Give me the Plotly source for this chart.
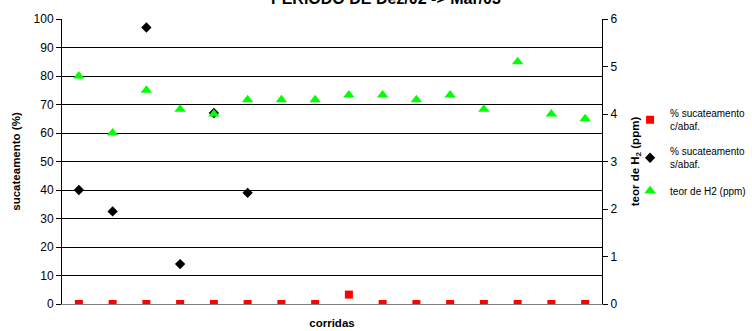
import plotly.graph_objects as go

# Runs (corridas) 1..16
corridas = list(range(1, 17))

# % sucateamento with baffle (c/abaf.)
suc_com_abaf = [0, 0, 0, 0, 0, 0, 0, 0, 3.3, 0, 0, 0, 0, 0, 0, 0]

# % sucateamento without baffle (s/abaf.) - only the first six runs
suc_sem_abaf = [40, 32.5, 97, 14, 67, 39, None, None, None, None, None, None, None, None, None, None]

# Hydrogen content (ppm), right axis
teor_h2 = [4.8, 3.6, 4.5, 4.1, 4.0, 4.3, 4.3, 4.3, 4.4, 4.4, 4.3, 4.4, 4.1, 5.1, 4.0, 3.9]

FONT = "Liberation Sans, Arial, sans-serif"

fig = go.Figure()

fig.add_trace(go.Scatter(
    x=corridas, y=suc_com_abaf, mode="markers",
    name="% sucateamento<br>c/abaf.",
    marker=dict(symbol="square", size=8, color="#FF0000"),
    yaxis="y", legendgroup="a",
))
fig.add_trace(go.Scatter(
    x=corridas, y=suc_sem_abaf, mode="markers",
    name="% sucateamento<br>s/abaf.",
    marker=dict(symbol="diamond", size=8, color="#000000"),
    yaxis="y", legendgroup="b",
))
fig.add_trace(go.Scatter(
    x=corridas, y=teor_h2, mode="markers",
    name="teor de H2 (ppm)",
    marker=dict(symbol="triangle-up", size=10, color="#00FF00"),
    yaxis="y2", legendgroup="c",
))

fig.update_layout(
    width=752, height=331,
    margin=dict(l=62, r=150, t=19, b=27, autoexpand=False),
    paper_bgcolor="white", plot_bgcolor="white",
    font=dict(family=FONT, size=11, color="black"),
    showlegend=True,
    legend=dict(
        x=1.052, y=0.715, xanchor="left", yanchor="top",
        font=dict(family=FONT, size=10, color="black"),
        itemwidth=30, tracegroupgap=9,
        bgcolor="rgba(0,0,0,0)",
    ),
    xaxis=dict(
        range=[0.5, 16.5], showgrid=False, zeroline=False,
        showticklabels=False, ticks="",
        showline=True, linecolor="#808080", linewidth=1,
        title=dict(text="<b>corridas</b>", font=dict(size=11.5), standoff=14),
    ),
    yaxis=dict(
        range=[0, 100], dtick=10, tick0=0,
        showgrid=True, gridcolor="#000000", gridwidth=1,
        zeroline=False, showline=True, linecolor="#000000", linewidth=1,
        ticks="outside", ticklen=5, tickcolor="#000000",
        tickfont=dict(size=12),
        title=dict(text="<b>sucateamento (%)</b>", font=dict(size=11.5), standoff=10),
    ),
    yaxis2=dict(
        range=[0, 6], dtick=1, tick0=0, overlaying="y", side="right",
        showgrid=False, zeroline=False,
        showline=True, linecolor="#000000", linewidth=1,
        ticks="outside", ticklen=5, tickcolor="#000000",
        tickfont=dict(size=12),
        title=dict(text="<b>teor de H<sub>2</sub> (ppm)</b>", font=dict(size=11.5), standoff=14),
    ),
    annotations=[dict(
        text="<b>PERÍODO DE Dez/02 -> Mar/03</b>",
        xref="paper", yref="paper", x=0.6, y=1.074,
        xanchor="center", yanchor="middle", showarrow=False,
        font=dict(family=FONT, size=16, color="black"),
    )],
)

fig.write_html("out.html")
